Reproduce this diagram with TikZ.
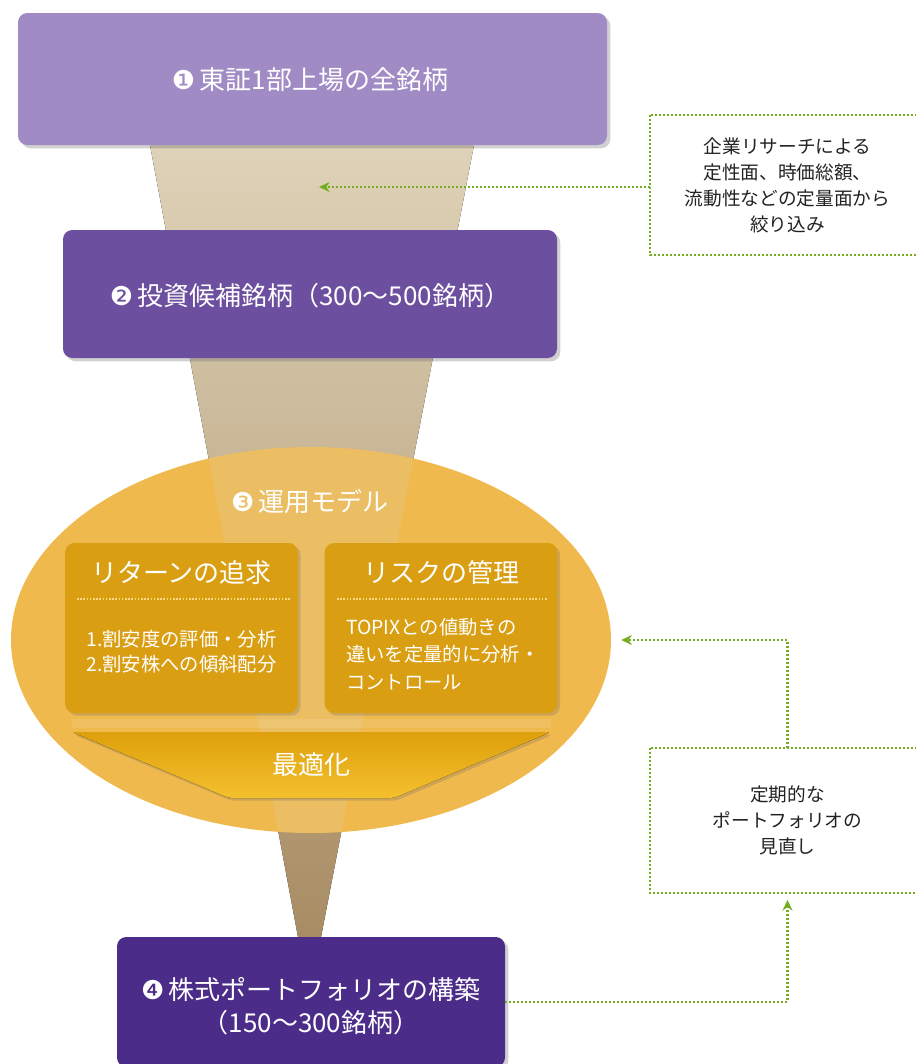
\documentclass[tikz,border=0pt]{standalone}
\usepackage{fontspec}
\setmainfont{Noto Sans CJK JP}
\newfontfamily\dingfont{DejaVu Sans}
\usetikzlibrary{shapes.geometric,shadows,arrows.meta,calc}
\definecolor{purA}{HTML}{A08BC5}
\definecolor{purB}{HTML}{6D4F9F}
\definecolor{purC}{HTML}{4B2C89}
\definecolor{goldE}{HTML}{EFB94E}
\definecolor{goldBox}{HTML}{D99E12}
\definecolor{optTop}{HTML}{DEA00C}
\definecolor{optBot}{HTML}{F4C02E}
\definecolor{funTop}{HTML}{DED2B8}
\definecolor{funBot}{HTML}{A88D64}
\definecolor{noteGreen}{HTML}{74AD22}
\definecolor{noteText}{HTML}{222222}
\newcommand{\bigtxt}{\fontsize{19.5pt}{24pt}\selectfont}
\newcommand{\bodytxt}{\fontsize{14.5pt}{18.8pt}\selectfont}
\newcommand{\notetxt}{\fontsize{14pt}{19.5pt}\selectfont}
\begin{document}
\begin{tikzpicture}[x=0.75pt,y=-0.75pt,
  stagebox/.style={rounded corners=7pt, inner sep=0pt,
    drop shadow={shadow xshift=2.5pt, shadow yshift=-2.5pt, opacity=0.3, fill=black!60}},
  stagetext/.style={text=white, font=\bigtxt, align=center, inner sep=0pt},
  innerbox/.style={rounded corners=7pt, inner sep=0pt, fill=goldBox,
    minimum width=174.5pt, minimum height=127.5pt,
    drop shadow={shadow xshift=2pt, shadow yshift=-2pt, opacity=0.25, fill=black!60}},
  ititle/.style={text=white, font=\bigtxt, inner sep=0pt},
  ibody/.style={text=white, font=\bodytxt, inner sep=0pt},
  sepline/.style={draw=optBot!60!white, line width=0.8pt, dash pattern=on 1.2pt off 1.2pt},
  notebox/.style={inner sep=0pt, text=noteText, font=\notetxt, align=center},
  noteline/.style={draw=noteGreen, line width=1.7pt, dash pattern=on 1.5pt off 1.5pt},
  notearrow/.style={noteline, -{Stealth[length=8pt,width=7.5pt,fill=noteGreen]}}
]
\useasboundingbox (0,0) rectangle (915,1064);
% funnel
\fill[top color=funTop, bottom color=funBot] (150,145) -- (474,145) -- (321,937) -- (298,937) -- cycle;
% model ellipse
\node[ellipse, fill=goldE, minimum width=450pt, minimum height=289.5pt, inner sep=0pt] (model) at (311,640) {};
\begin{scope}
  \clip (model.center) ellipse [x radius=225pt, y radius=144.75pt];
  \fill[funTop, opacity=0.2] (150,145) -- (474,145) -- (321,937) -- (298,937) -- cycle;
  \fill[white, opacity=0.1] (72,719) rectangle (551,728);
\end{scope}
% stage boxes
\node[stagebox, fill=purA, minimum width=441.75pt, minimum height=99pt] (s1) at (312.5,79) {};
\node[stagetext] (s1t) at (310,80) {{\dingfont ❶}\,東証1部上場の全銘柄};
\node[stagebox, fill=purB, minimum width=370.5pt, minimum height=96pt] (s2) at (310,294) {};
\node[stagetext] (s2t) at (310,296) {{\dingfont ❷}\,投資候補銘柄（300～500銘柄）};
\node[stagetext] (mtitle) at (310,502) {{\dingfont ❸}\,運用モデル};
% inner boxes
\node[innerbox] (ret) at (181.5,628) {};
\node[innerbox] (risk) at (441,628) {};
\node[ititle] (rett) at (181.5,573) {リターンの追求};
\node[ititle] (riskt) at (441,573) {リスクの管理};
\coordinate (rs1) at (77,599);
\coordinate (rs2) at (290,599);
\coordinate (ks1) at (337,599);
\coordinate (ks2) at (548,599);
\draw[sepline] (rs1) -- (rs2);
\draw[sepline] (ks1) -- (ks2);
\node[ibody, align=center] (retb) at (181.5,652) {1.割安度の評価・分析\\2.割安株への傾斜配分};
\node[ibody, align=left, anchor=west, font=\fontsize{14.5pt}{20.6pt}\selectfont] (riskb) at (346,654)
  {TOPIXとの値動きの\\違いを定量的に分析・\\コントロール};
% optimisation band
\fill[top color=optTop, bottom color=optBot, rounded corners=3pt,
  drop shadow={shadow xshift=1.5pt, shadow yshift=-2pt, opacity=0.25, fill=black!60}]
  (72,732) -- (551,732) -- (394,798) -- (229,798) -- cycle;
\node[text=white, font=\fontsize{19.5pt}{23pt}\selectfont, inner sep=0pt] (opt) at (311,765) {最適化};
% stage 4
\node[stagebox, fill=purC, minimum width=291pt, minimum height=97.5pt] (s4) at (311,1002) {};
\node[stagetext] (s4t) at (311,1006) {{\dingfont ❹}\,株式ポートフォリオの構築\\[1pt]（150～300銘柄）};
% notes
\node[notebox, minimum width=206.25pt, minimum height=105pt] (n1) at (787.5,185)
  {企業リサーチによる\\定性面、時価総額、\\流動性などの定量面から\\絞り込み};
\draw[noteline] (n1.north east) -- (n1.north west) -- (n1.south west) -- (n1.south east);
\node[notebox, minimum width=206.25pt, minimum height=108.75pt] (n2) at (787.5,820.5)
  {定期的な\\ポートフォリオの\\見直し};
\draw[noteline] (n2.north east) -- (n2.north west) -- (n2.south west) -- (n2.south east);
% arrows
\coordinate (a1) at (319,187);
\draw[notearrow] (n1.west |- a1) -- (a1);
\draw[notearrow, shorten >=5pt] (s4.east) -| (n2.south);
\draw[notearrow, shorten >=7.5pt] (n2.north) |- (model.east);
\end{tikzpicture}
\end{document}
